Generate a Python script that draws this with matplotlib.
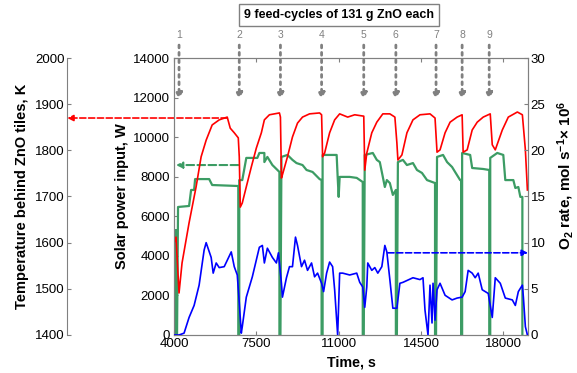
import matplotlib.pyplot as plt

plt.rcParams['font.family'] = ['Liberation Sans', 'DejaVu Sans']
plt.rcParams['mathtext.fontset'] = 'custom'
plt.rcParams['mathtext.rm'] = 'Liberation Sans:bold'
plt.rcParams['mathtext.bf'] = 'Liberation Sans:bold'
plt.rcParams['mathtext.default'] = 'rm'

# temperature behind ZnO tiles (K)
temp_t = [4000, 4085, 4213, 4341, 4640, 4939, 5152, 5366, 5622, 5921, 6262, 6390, 6561, 6732,
          6774, 6817, 6902, 7073, 7286, 7500, 7713, 7841, 8055, 8268, 8481, 8524, 8567, 8609,
          8823, 9036, 9250, 9463, 9762, 10189, 10274, 10317, 10402, 10615, 10829, 11042, 11384,
          11682, 12067, 12109, 12195, 12408, 12621, 12877, 13176, 13390, 13475, 13518, 13688,
          13902, 14158, 14457, 14883, 15097, 15182, 15310, 15524, 15737, 16036, 16249, 16292,
          16463, 16676, 16890, 17146, 17444, 17530, 17658, 17956, 18212, 18597, 18810, 18938, 19024]
temp_K = [1599, 1612, 1491, 1556, 1643, 1721, 1786, 1822, 1855, 1866, 1872, 1848, 1838, 1827,
          1786, 1677, 1686, 1721, 1764, 1805, 1838, 1866, 1877, 1879, 1881, 1872, 1740, 1747,
          1786, 1829, 1859, 1872, 1879, 1881, 1877, 1786, 1794, 1838, 1866, 1879, 1872,
          1877, 1874, 1757, 1794, 1838, 1861, 1879, 1879, 1872, 1816, 1779, 1790,
          1838, 1866, 1877, 1879, 1870, 1796, 1801, 1838, 1861, 1872, 1877, 1796,
          1801, 1844, 1861, 1872, 1879, 1812, 1801, 1844, 1872, 1883, 1877, 1801, 1714]

# solar power input (W)
power_t = [4000, 4085, 4085, 4128, 4171, 4640, 4726, 4854, 4896, 5494, 5622, 6732, 6732, 6774,
           6774, 6902, 7073, 7542, 7628, 7841, 7841, 7969, 8182, 8396, 8481, 8481, 8524, 8567,
           8823, 9036, 9207, 9463, 9634, 9890, 10189, 10274, 10274, 10317, 10317, 10914, 10957,
           11000, 11042, 11469, 11768, 12024, 12024, 12067, 12109, 12451, 12621, 12749, 12877,
           12963, 13048, 13176, 13304, 13432, 13432, 13475, 13518, 13731, 13902, 14158, 14329,
           14542, 14756, 15097, 15097, 15140, 15182, 15438, 15609, 15822, 15950, 16164, 16206,
           16206, 16249, 16249, 16591, 16676, 17146, 17402, 17402, 17444, 17444, 17743, 17999,
           18084, 18426, 18511, 18639, 18724, 18810, 18810]
power_W = [5300, 5300, 0, 0, 6470, 6520, 7330, 7330, 7880, 7880, 7580, 7530, 0, 0,
           7830, 7830, 8950, 8950, 9200, 9200, 8740, 9000, 8590, 8340, 8240, 0, 0, 9000,
           9100, 8850, 8690, 8590, 8340, 8240, 7880, 7830, 0, 0, 9100, 9100, 7990,
           6980, 7990, 7990, 7940, 7730, 0, 0, 9100, 9200, 8850, 8740, 7990,
           7480, 7830, 7680, 7080, 7330, 0, 0, 8740, 8850, 8590, 8690, 8340,
           8190, 7830, 7680, 0, 0, 9000, 9100, 8740, 8490, 8240, 7830, 7830,
           0, 0, 9200, 9100, 8440, 8390, 8340, 0, 0, 8950, 9200, 9100,
           7830, 7830, 7430, 7480, 6980, 6980, 0]

# O2 production rate (mol/s x 1e6)
o2_t = [4000, 4213, 4427, 4640, 4854, 5067, 5280, 5366, 5579, 5665, 5793, 5921, 6134, 6433,
        6561, 6689, 6774, 6860, 6902, 7073, 7329, 7628, 7756, 7841, 7969, 8182, 8353, 8439,
        8567, 8609, 8780, 8908, 9036, 9164, 9250, 9420, 9548, 9676, 9847, 9975, 10103, 10274,
        10359, 10487, 10615, 10743, 10829, 10957, 11042, 11170, 11469, 11768, 11896, 12024,
        12109, 12195, 12237, 12408, 12536, 12664, 12835, 12963, 13048, 13176, 13304, 13475,
        13603, 13731, 14158, 14457, 14585, 14670, 14798, 14883, 14969, 15012, 15097, 15182,
        15310, 15524, 15822, 16036, 16249, 16377, 16505, 16676, 16804, 16932, 17103, 17231,
        17359, 17530, 17658, 17871, 18084, 18383, 18511, 18639, 18810, 18853, 18938, 19024]
o2_rate = [0, 0, 0.2, 1.9, 3.2, 5.4, 9.2, 10.0, 8.4, 6.7, 7.8, 7.3, 7.4, 9.0,
           7.4, 6.5, 3.5, 0.2, 0.9, 4.1, 6.3, 9.5, 9.7, 7.8, 9.4, 8.4, 7.8, 8.9,
           5.6, 4.1, 6.2, 7.4, 7.4, 10.6, 9.7, 7.4, 8.1, 7.0, 7.8, 6.3, 6.7, 5.6,
           4.7, 6.7, 7.9, 7.4, 4.9, 0, 6.7, 6.7, 6.5, 6.7, 5.7, 5.2,
           3.0, 5.2, 7.8, 7.0, 7.3, 6.7, 7.4, 9.7, 9.0, 6.0, 2.9, 2.9,
           5.6, 5.7, 6.2, 6.0, 6.2, 2.7, 0, 5.4, 1.3, 5.6, 1.6, 4.9,
           5.6, 4.3, 3.8, 4.0, 4.1, 4.7, 7.0, 6.7, 6.2, 6.7, 4.9, 4.7,
           4.5, 1.9, 6.2, 5.6, 4.0, 3.8, 3.2, 4.7, 5.4, 4.1, 0.9, 0]

# feed cycles
feed_t = [4213, 6774, 8524, 10274, 12066, 13432, 15140, 16249, 17400]
feed_labels = ['1', '2', '3', '4', '5', '6', '7', '8', '9']

time_ticks = [4000, 7500, 11000, 14500, 18000]
power_ticks = [0, 2000, 4000, 6000, 8000, 10000, 12000, 14000]
temp_ticks = [1400, 1500, 1600, 1700, 1800, 1900, 2000]
o2_ticks = [0, 5, 10, 15, 20, 25, 30]

red = '#ff0000'
green = '#3c9c64'
blue = '#0000ff'
grey = '#808080'

fig = plt.figure(figsize=(5.77, 3.73), dpi=100)
ax = fig.add_axes([0.3016, 0.1019, 0.6135, 0.7426])
tax = ax.twinx()
oax = ax.twinx()

# temperature axis: single spine far left
tax.spines['left'].set_position(('axes', -0.302))
tax.yaxis.set_ticks_position('left')
tax.yaxis.set_label_position('left')
for s in ['right', 'top', 'bottom']:
    tax.spines[s].set_visible(False)
tax.spines['left'].set_color(grey)

for a in [ax, oax]:
    for s in a.spines.values():
        s.set_color(grey)

# plot
tax.plot(temp_t, temp_K, color=red, lw=1.2, zorder=3)
ax.plot(power_t, power_W, color=green, lw=1.6, zorder=2)
oax.plot(o2_t, o2_rate, color=blue, lw=1.2, zorder=3)

ax.set_xlim(4000, 19050)
ax.set_ylim(0, 14000)
tax.set_ylim(1400, 2000)
oax.set_ylim(0, 30)
ax.set_xticks(time_ticks)
ax.set_xticklabels([str(v) for v in time_ticks])
ax.set_yticks(power_ticks)
tax.set_yticks(temp_ticks)
oax.set_yticks(o2_ticks)

ax.tick_params(axis='x', direction='in', top=True, length=3, pad=2, labelsize=9.5, color=grey)
ax.tick_params(axis='y', direction='in', length=3, pad=3, labelsize=9.5, color=grey)
tax.tick_params(axis='y', direction='in', length=3, pad=2, labelsize=9.5, color=grey)
oax.tick_params(axis='y', direction='in', length=3, pad=2, labelsize=9.5, color=grey)

ax.set_xlabel('Time, s', fontsize=10.3, fontweight='bold', labelpad=4)
ax.set_ylabel('Solar power input, W', fontsize=10.5, fontweight='bold', labelpad=3)
tax.set_ylabel('Temperature behind ZnO tiles, K', fontsize=10.5, fontweight='bold', labelpad=4)
oax.set_ylabel(r'O$_2$ rate, mol s$^{-1}$× 10$^6$', fontsize=11, fontweight='bold')
oax.yaxis.set_label_coords(1.076, 0.575)

# dashed guide arrows
tax.annotate('', xy=(-0.302, 1870), xycoords=('axes fraction', 'data'),
             xytext=(6262, 1870), textcoords='data',
             arrowprops=dict(arrowstyle='-|>', color=red, ls='--', lw=1.2,
                             mutation_scale=9, shrinkA=0, shrinkB=0),
             annotation_clip=False)
ax.annotate('', xy=(4085, 8590), xytext=(6732, 8590),
            arrowprops=dict(arrowstyle='-|>', color=green, ls='--', lw=1.5,
                            mutation_scale=9, shrinkA=0, shrinkB=0))
oax.annotate('', xy=(1.0, 8.9), xycoords=('axes fraction', 'data'),
             xytext=(13091, 8.9), textcoords='data',
             arrowprops=dict(arrowstyle='-|>', color=blue, ls='--', lw=1.2,
                             mutation_scale=9, shrinkA=0, shrinkB=0),
             annotation_clip=False)

# feed-cycle arrows
for t, lab in zip(feed_t, feed_labels):
    oax.annotate('', xy=(t, 25.5), xytext=(t, 31.4),
                 arrowprops=dict(arrowstyle='-|>', color=grey, ls=':', lw=2,
                                 mutation_scale=9, shrinkA=0, shrinkB=0),
                 annotation_clip=False)
    oax.text(t, 32.5, lab, color=grey, fontsize=7.5, ha='center', va='center', clip_on=False)

fig.text(0.5875, 0.960, '9 feed-cycles of 131 g ZnO each', fontsize=9, fontweight='bold',
         ha='center', va='center',
         bbox=dict(boxstyle='square,pad=0.4', fc='white', ec=grey, lw=1))

fig.savefig('out.png', dpi=100)
